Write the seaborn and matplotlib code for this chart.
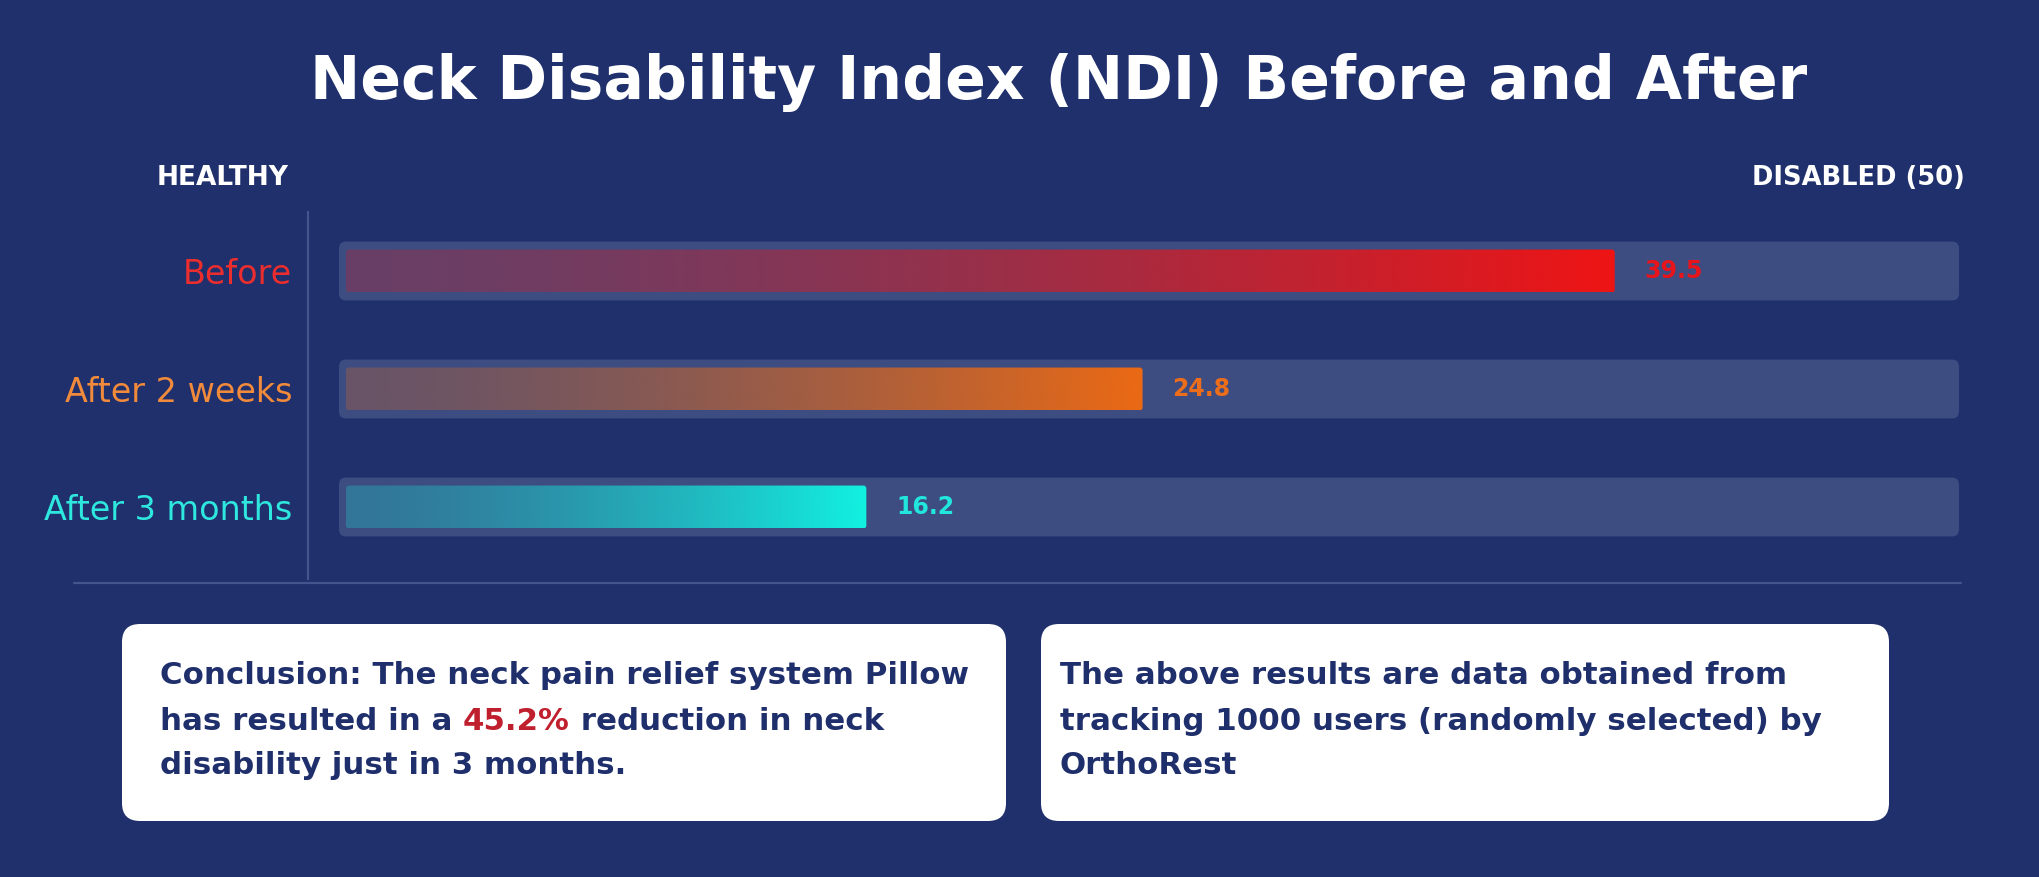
import numpy as np
import pandas as pd
import matplotlib.pyplot as plt
import seaborn as sns
from matplotlib.patches import FancyBboxPatch
from matplotlib.colors import to_rgb

# data
stages = ["Before", "After 2 weeks", "After 3 months"]
ndi_scores = [39.5, 24.8, 16.2]
ndi_max = 50
bar_colors = ["#f01414", "#ec6a14", "#12f2e2"]
label_colors = ["#ec2d2d", "#f28a3c", "#2ee8df"]
value_colors = ["#e8141c", "#ec6e1a", "#22e6dc"]

title = "Neck Disability Index (NDI) Before and After"
left_end = "HEALTHY"
right_end = "DISABLED (50)"
reduction = "45.2%"
conclusion = ["Conclusion: The neck pain relief system Pillow",
              "has resulted in a ", " reduction in neck",
              "disability just in 3 months."]
source_note = ["The above results are data obtained from",
               "tracking 1000 users (randomly selected) by",
               "OrthoRest"]

BG = "#1f306c"
TRACK = "#3d4d82"
LINE = "#44548c"
NAVY = "#1f2f6b"
RED = "#c01f2e"

sns.set_theme(style="white")
plt.rcParams["font.family"] = ["DejaVu Sans"]

W, H = 2040, 877
fig = plt.figure(figsize=(W / 100, H / 100), dpi=100, facecolor=BG)

# background axes in pixel units for header, boxes, notes
bg = fig.add_axes([0, 0, 1, 1], zorder=0)
bg.set_xlim(0, W)
bg.set_ylim(H, 0)
bg.axis("off")

# main bar axes: 0 sits at x=346 px, 50 at x=1952 px
ax_left, ax_right, ax_top, ax_bot = 308, 1952, 212, 579
zero_px = 346
ax = fig.add_axes([ax_left / W, 1 - ax_bot / H, (ax_right - ax_left) / W, (ax_bot - ax_top) / H], zorder=1)
ax.patch.set_alpha(0)

df = pd.DataFrame({"stage": stages, "score": ndi_scores, "full": [ndi_max] * len(stages)})

sns.barplot(data=df, x="full", y="stage", orient="h", width=0.38, color=TRACK,
            saturation=1, ax=ax)
n_tracks = len(ax.patches)
sns.barplot(data=df, x="score", y="stage", orient="h", width=0.364, color="white",
            saturation=1, ax=ax)

px_x = (ax_right - zero_px) / ndi_max
xmin = -(zero_px - ax_left) / px_x
px_y = (ax_bot - ax_top) / 3.11
asp = px_x / px_y

patches = list(ax.patches)
tracks, bars = patches[:n_tracks], patches[n_tracks:]

for p in tracks:
    x0, y0, w, h = p.get_x(), p.get_y(), p.get_width(), p.get_height()
    p.remove()
    r = 7 / px_x
    ax.add_patch(FancyBboxPatch((x0, y0), w, h, boxstyle=f"round,pad={r},rounding_size={r}",
                                mutation_aspect=asp, facecolor=TRACK, edgecolor="none",
                                zorder=1, clip_on=False))

t = np.linspace(0, 1, 400)
for p, color, vcol, v in zip(bars, bar_colors, value_colors, ndi_scores):
    x0, y0, w, h = p.get_x(), p.get_y(), p.get_width(), p.get_height()
    p.remove()
    r = 3 / px_x
    clip = FancyBboxPatch((x0, y0), w, h, boxstyle=f"round,pad=0,rounding_size={r}",
                          mutation_aspect=asp, facecolor="none", edgecolor="none")
    ax.add_patch(clip)
    grad = np.zeros((1, len(t), 4))
    grad[..., :3] = to_rgb(color)
    grad[..., 3] = 0.25 + 0.75 * t ** 1.5
    im = ax.imshow(grad, extent=[x0, x0 + w, y0 + h, y0], aspect="auto",
                   interpolation="bicubic", zorder=3)
    im.set_clip_path(clip)
    ax.annotate(f"{v}", xy=(x0 + w, y0 + h / 2), xytext=(21.6, 0), textcoords="offset points",
                ha="left", va="center", fontsize=17, fontweight="bold", color=vcol, zorder=4)

ax.set_xlim(xmin, ndi_max)
ax.set_ylim(2.61, -0.5)
ax.set_xlabel("")
ax.set_ylabel("")
ax.set_xticks([])
sns.despine(ax=ax, top=True, right=True, bottom=True, left=False)
ax.spines["left"].set_color(LINE)
ax.spines["left"].set_linewidth(1.6)
ax.tick_params(axis="y", length=0, pad=11.5, labelsize=24)
for lbl, c in zip(ax.get_yticklabels(), label_colors):
    lbl.set_color(c)

# header
bg.text(W / 2 + 39, 82, title, ha="center", va="center", fontsize=43.2,
        fontweight="bold", color="white")
bg.text(289, 178, left_end, ha="right", va="center", fontsize=19, fontweight="bold", color="white")
bg.text(1965, 178, right_end, ha="right", va="center", fontsize=18.5, fontweight="bold", color="white")
bg.plot([74, 1961], [583, 583], color=LINE, lw=1.6)

# note boxes
for bx0, bx1 in [(122, 1006), (1041, 1889)]:
    bg.add_patch(FancyBboxPatch((bx0, 624), bx1 - bx0, 197, boxstyle="round,pad=0,rounding_size=18",
                                facecolor="white", edgecolor="none"))

txt = dict(fontsize=22.2, fontweight="bold", color=NAVY)
rows = [676, 721, 765]
bg.text(160, rows[0], conclusion[0], ha="left", va="center", **txt)
a = bg.text(160, rows[1], conclusion[1], ha="left", va="center", **txt)
b = bg.annotate(reduction, xy=(1, 0), xycoords=a, ha="left", va="bottom",
                fontsize=22.2, fontweight="bold", color=RED)
bg.annotate(conclusion[2], xy=(1, 0), xycoords=b, ha="left", va="bottom", **txt)
bg.text(160, rows[2], conclusion[3], ha="left", va="center", **txt)

for y, line in zip(rows, source_note):
    bg.text(1060, y, line, ha="left", va="center", **txt)

fig.savefig("out.png", dpi=100, facecolor=BG)
